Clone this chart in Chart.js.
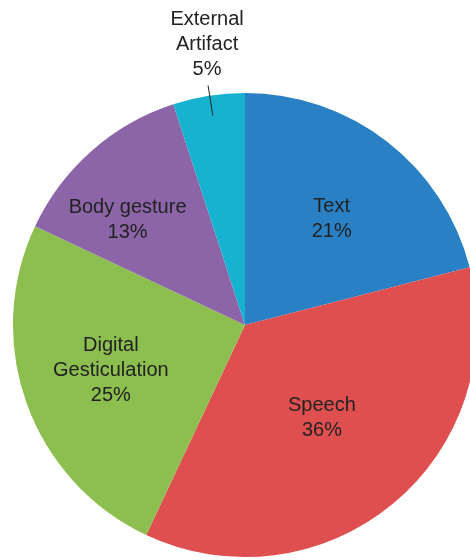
<!DOCTYPE html>
<html>
<head>
<meta charset="utf-8">
<script src="https://cdn.jsdelivr.net/npm/chart.js@4"></script>
<style>
  html, body { margin: 0; padding: 0; background: #ffffff; overflow: hidden; }
  #wrap { position: relative; width: 480px; height: 560px; }
</style>
</head>
<body>
<div id="wrap"><canvas id="c" width="480" height="560"></canvas></div>
<script>
// ---- data ----
const categories = ["Text", "Speech", "Digital Gesticulation", "Body gesture", "External Artifact"];
const labelLines = [["Text"], ["Speech"], ["Digital", "Gesticulation"], ["Body gesture"], ["External", "Artifact"]];
const shares = [21, 36, 25, 13, 5];
const colors = ["#2a80c4", "#e04f4f", "#8dbe50", "#8c65a8", "#17b2cf"];

// label placement (fraction of radius, angle tweak in degrees, outside flag)
const placement = [
  { r: 0.59, da: 1.5, out: false },
  { r: 0.52, da: 0, out: false },
  { r: 0.61, da: 1.2, out: false },
  { r: 0.68, da: -6.7, out: false },
  { r: 1.22, da: 1.3, out: true }
];

const labelPlugin = {
  id: 'pieLabels',
  afterDatasetsDraw(chart) {
    const ctx = chart.ctx;
    const meta = chart.getDatasetMeta(0);
    const total = shares.reduce((a, b) => a + b, 0);
    ctx.save();
    ctx.font = '20px "Liberation Sans", Arial, sans-serif';
    ctx.fillStyle = '#222222';
    ctx.textAlign = 'center';
    ctx.textBaseline = 'middle';
    const lh = 25;
    meta.data.forEach((arc, i) => {
      const p = arc.getProps(['x', 'y', 'startAngle', 'endAngle', 'outerRadius'], true);
      const mid = (p.startAngle + p.endAngle) / 2 + placement[i].da * Math.PI / 180;
      const rr = p.outerRadius * placement[i].r;
      const cx = p.x + Math.cos(mid) * rr;
      const cy = p.y + Math.sin(mid) * rr;
      const pct = Math.round(shares[i] / total * 100) + '%';
      const lines = labelLines[i].concat([pct]);
      const top = cy - (lines.length - 1) * lh / 2;
      lines.forEach((t, k) => ctx.fillText(t, cx, top + k * lh));
      if (placement[i].out) {
        const m2 = (p.startAngle + p.endAngle) / 2;
        const x1 = cx + 1, y1 = top + (lines.length - 1) * lh + 16;
        const x2 = p.x + Math.cos(m2) * (p.outerRadius - 20);
        const y2 = p.y + Math.sin(m2) * (p.outerRadius - 20);
        ctx.strokeStyle = '#222222';
        ctx.lineWidth = 1;
        ctx.beginPath();
        ctx.moveTo(x1, y1);
        ctx.lineTo(x2 + 1, y2);
        ctx.stroke();
      }
    });
    ctx.restore();
  }
};

new Chart(document.getElementById('c'), {
  type: 'pie',
  data: {
    labels: categories,
    datasets: [{
      data: shares,
      backgroundColor: colors,
      borderWidth: 0
    }]
  },
  options: {
    responsive: false,
    animation: false,
    layout: { padding: { left: 13, top: 93, right: 3, bottom: 3 } },
    plugins: {
      legend: { display: false },
      tooltip: { enabled: false }
    }
  },
  plugins: [labelPlugin]
});
</script>
</body>
</html>
